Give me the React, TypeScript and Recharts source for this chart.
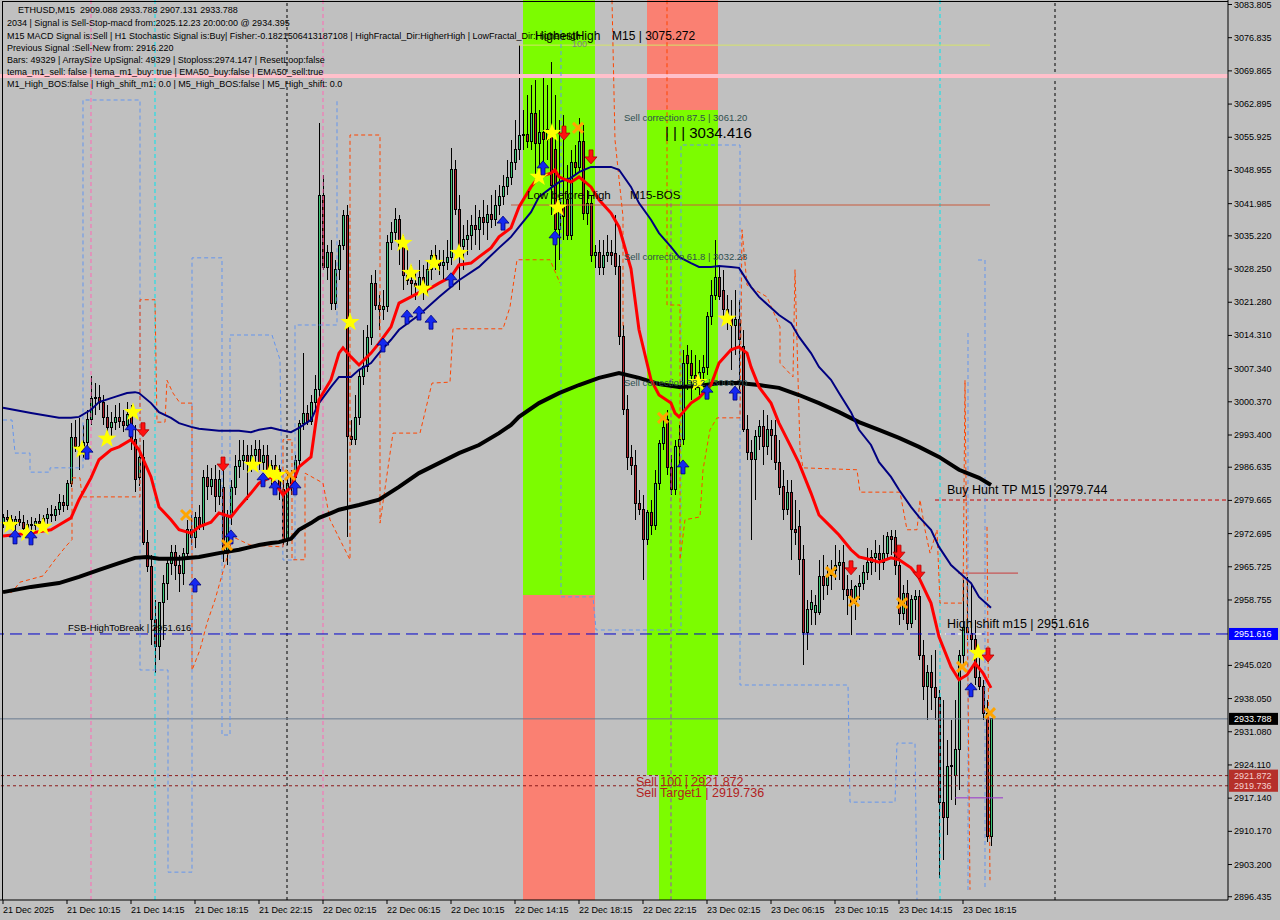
import React from 'react';
import {
  ComposedChart,
  Bar,
  Line,
  Scatter,
  XAxis,
  YAxis,
  ReferenceArea,
  ReferenceLine,
} from 'recharts';

// ETHUSD M15, one entry per bar (index 0 = 21 Dec 06:15)
const opens = [
  2975.1, 2976.0, 2975.6, 2974.7, 2975.6, 2975.1, 2973.7, 2974.7, 2974.3, 2975.3,
  2974.9, 2975.8, 2976.8, 2976.4, 2977.7, 2979.3, 2978.5, 2983.3, 2992.8, 2990.9,
  2989.8, 2991.9, 2996.6, 3001.0, 3001.2, 3000.3, 2997.0, 2994.9, 2996.1, 2997.0,
  2996.3, 2995.5, 2997.8, 2992.4, 2984.4, 2988.6, 2970.9, 2965.7, 2954.6, 2948.9,
  2958.3, 2962.3, 2966.5, 2968.8, 2966.1, 2964.4, 2968.6, 2973.5, 2971.8, 2976.0,
  2974.5, 2984.4, 2982.5, 2984.0, 2980.4, 2982.3, 2968.6, 2976.2, 2982.3, 2986.7,
  2988.1, 2989.2, 2987.7, 2989.2, 2990.3, 2987.7, 2989.2, 2985.6, 2986.9, 2986.1,
  2981.9, 2971.4, 2983.3, 2984.4, 2988.1, 2995.9, 2998.0, 2996.3, 3000.3, 3002.9,
  3043.8, 3028.5, 3031.8, 3021.1, 3028.1, 3033.3, 3039.6, 2993.0, 2992.4, 2997.0,
  3005.6, 3007.7, 3013.8, 3025.3, 3020.7, 3019.7, 3020.3, 3033.9, 3036.0, 3038.6,
  3032.9, 3027.0, 3025.9, 3025.3, 3024.5, 3026.4, 3024.7, 3028.1, 3031.0, 3029.7,
  3028.9, 3029.7, 3030.6, 3049.1, 3040.7, 3032.9, 3034.4, 3035.2, 3037.5, 3036.5,
  3039.0, 3038.1, 3039.8, 3038.6, 3041.7, 3043.4, 3045.5, 3047.4, 3050.7, 3053.3,
  3056.2, 3056.6, 3055.0, 3061.0, 3054.7, 3057.0, 3055.4, 3057.5, 3053.3, 3036.5,
  3041.7, 3042.8, 3035.4, 3050.7, 3049.5, 3055.0, 3040.0, 3042.1, 3031.2, 3031.8,
  3028.5, 3031.2, 3031.8, 3031.6, 3028.7, 3014.0, 2998.7, 2988.6, 2987.1, 2979.1,
  2977.7, 2971.4, 2977.2, 2974.5, 2983.3, 2991.7, 2996.6, 2986.5, 2981.9, 2990.9,
  2992.4, 3010.2, 3008.5, 3006.0, 3005.0, 3006.6, 3007.5, 3018.2, 3022.8, 3026.4,
  3023.8, 3019.7, 3018.0, 3016.5, 3017.6, 3011.9, 2994.5, 2989.8, 2988.2, 2993.0,
  2995.1, 2990.9, 2994.5, 2993.4, 2987.7, 2982.5, 2977.7, 2981.4, 2973.5, 2974.1,
  2967.2, 2952.0, 2956.7, 2956.2, 2956.2, 2963.6, 2961.9, 2964.0, 2965.0, 2966.1,
  2966.7, 2960.9, 2960.9, 2958.1, 2961.5, 2962.3, 2964.6, 2966.7, 2967.6, 2968.6,
  2966.7, 2968.6, 2972.0, 2971.8, 2966.1, 2956.0, 2960.2, 2953.9, 2958.8, 2959.4,
  2947.2, 2940.5, 2943.6, 2940.3, 2938.2, 2916.3, 2913.0, 2923.7, 2922.0, 2927.3,
  2947.2, 2952.9, 2951.8, 2950.4, 2942.4, 2940.5, 2935.0, 2909.088,
];

const highs = [
  2976.8, 2977.7, 2976.6, 2976.4, 2977.4, 2976.6, 2975.6, 2976.2, 2976.0, 2976.8,
  2976.6, 2978.1, 2978.7, 2978.5, 2981.0, 2980.8, 2984.0, 2995.9, 2996.6, 2997.0,
  2995.5, 2998.7, 3005.8, 3004.3, 3003.9, 3001.8, 2999.7, 2998.2, 2999.7, 3000.1,
  2998.7, 3000.3, 2999.7, 2995.5, 2989.8, 2992.4, 2973.4, 2968.2, 2958.8, 2956.7,
  2964.0, 2967.2, 2970.3, 2970.3, 2968.2, 2969.7, 2975.6, 2976.6, 2977.2, 2978.7,
  2986.1, 2987.1, 2986.5, 2987.1, 2986.1, 2986.1, 2977.7, 2984.0, 2989.2, 2992.4,
  2992.4, 2991.3, 2991.3, 2992.4, 2992.4, 2991.3, 2991.3, 2988.1, 2989.2, 2987.1,
  2984.0, 2986.1, 2986.1, 2989.2, 2996.6, 3010.6, 2999.7, 3001.8, 3006.0, 3058.9,
  3048.0, 3033.3, 3034.4, 3030.2, 3034.4, 3040.7, 3041.7, 2996.6, 3001.8, 3007.1,
  3015.5, 3016.5, 3027.0, 3028.1, 3022.8, 3023.9, 3035.4, 3038.1, 3041.1, 3039.6,
  3035.4, 3032.3, 3029.1, 3028.1, 3030.2, 3029.1, 3029.7, 3032.3, 3033.3, 3032.3,
  3032.3, 3034.4, 3053.7, 3051.2, 3043.8, 3037.5, 3038.6, 3039.6, 3041.7, 3040.7,
  3042.8, 3041.7, 3043.8, 3044.9, 3045.9, 3048.0, 3051.2, 3055.4, 3059.6, 3075.3,
  3061.7, 3064.8, 3066.9, 3067.9, 3061.7, 3069.0, 3066.9, 3071.7, 3064.8, 3059.6,
  3060.6, 3050.1, 3053.3, 3054.3, 3060.0, 3058.5, 3044.9, 3043.8, 3033.3, 3034.4,
  3034.4, 3035.4, 3034.4, 3039.6, 3031.2, 3016.5, 3001.8, 2991.3, 2990.3, 2981.9,
  2980.8, 2977.7, 2979.8, 2986.1, 2992.4, 2996.6, 2998.7, 2989.2, 2992.4, 2995.5,
  3011.3, 3012.3, 3011.3, 3010.2, 3009.2, 3010.2, 3019.2, 3025.9, 3034.4, 3029.1,
  3028.1, 3022.8, 3021.8, 3023.9, 3021.8, 3015.5, 2997.6, 2992.4, 2994.5, 2996.6,
  2998.7, 2997.6, 2996.6, 2996.6, 2992.4, 2986.1, 2984.0, 2984.0, 2979.8, 2977.7,
  2970.3, 2958.8, 2960.9, 2959.8, 2967.2, 2968.2, 2966.1, 2967.2, 2970.3, 2969.3,
  2970.3, 2964.0, 2963.0, 2961.9, 2964.0, 2966.1, 2969.7, 2969.3, 2971.4, 2970.3,
  2972.4, 2973.0, 2973.5, 2973.5, 2969.3, 2961.9, 2962.9, 2959.8, 2960.9, 2960.9,
  2950.4, 2945.1, 2947.2, 2948.3, 2939.9, 2937.8, 2929.4, 2933.5, 2937.8, 2948.3,
  2962.9, 2963.6, 2961.9, 2954.6, 2948.3, 2942.0, 2937.8, 2933.788,
];

const lows = [
  2973.9, 2974.5, 2973.5, 2973.0, 2974.3, 2973.0, 2972.4, 2973.5, 2972.8, 2973.9,
  2973.5, 2974.1, 2975.1, 2975.3, 2976.6, 2977.2, 2977.7, 2982.5, 2989.8, 2986.0,
  2988.6, 2991.1, 2995.5, 2997.6, 2998.7, 2995.5, 2993.4, 2992.8, 2994.4, 2994.9,
  2994.0, 2994.5, 2990.3, 2981.4, 2982.7, 2970.3, 2964.6, 2949.3, 2943.4, 2946.2,
  2950.4, 2958.8, 2964.0, 2962.9, 2960.4, 2961.9, 2967.2, 2970.3, 2969.7, 2973.5,
  2973.5, 2979.8, 2980.8, 2977.2, 2978.7, 2966.7, 2966.1, 2974.5, 2980.8, 2984.4,
  2986.1, 2979.8, 2985.6, 2986.5, 2986.1, 2986.1, 2984.4, 2982.9, 2984.0, 2979.8,
  2970.3, 2970.3, 2980.8, 2982.9, 2987.1, 2994.5, 2995.5, 2995.5, 2998.7, 3000.3,
  3028.1, 3025.9, 3019.7, 3019.7, 3025.9, 3032.3, 2972.0, 2991.3, 2991.3, 2995.5,
  3003.9, 3006.6, 3012.3, 3019.7, 3015.5, 3017.5, 3019.2, 3032.3, 3034.4, 3029.1,
  3023.9, 3024.9, 3022.8, 3021.8, 3023.4, 3021.8, 3022.8, 3025.9, 3028.1, 3027.0,
  3025.9, 3028.1, 3029.1, 3039.6, 3023.9, 3028.1, 3031.2, 3032.3, 3033.3, 3032.3,
  3035.4, 3034.4, 3036.9, 3037.3, 3039.6, 3041.7, 3043.8, 3045.9, 3049.1, 3051.2,
  3053.3, 3053.7, 3053.3, 3047.0, 3050.1, 3048.0, 3051.2, 3039.6, 3028.1, 3030.2,
  3034.4, 3034.4, 3034.4, 3048.0, 3048.6, 3038.6, 3037.5, 3029.7, 3028.5, 3027.0,
  3027.0, 3029.7, 3029.1, 3027.0, 3012.3, 2997.6, 2986.1, 2985.0, 2975.6, 2976.6,
  2962.9, 2970.3, 2972.4, 2973.5, 2981.9, 2990.3, 2985.0, 2980.8, 2980.8, 2987.1,
  2991.3, 3002.9, 3000.8, 3002.9, 3001.8, 3003.9, 3006.0, 3016.5, 3021.8, 3021.8,
  3017.6, 3015.5, 3007.1, 3010.2, 3002.9, 2994.0, 2988.2, 2971.4, 2979.8, 2990.3,
  2987.1, 2989.2, 2988.2, 2986.1, 2980.8, 2975.6, 2976.6, 2967.2, 2970.3, 2964.0,
  2945.1, 2948.3, 2953.5, 2953.5, 2955.6, 2958.8, 2959.8, 2960.9, 2962.9, 2962.9,
  2958.8, 2955.6, 2951.4, 2954.6, 2958.8, 2960.9, 2962.9, 2964.0, 2964.6, 2962.9,
  2965.1, 2967.2, 2968.2, 2964.0, 2953.5, 2954.6, 2952.4, 2952.9, 2954.6, 2946.2,
  2937.8, 2933.6, 2935.7, 2933.6, 2900.4, 2904.2, 2909.4, 2916.8, 2915.7, 2918.9,
  2945.1, 2950.4, 2948.3, 2940.9, 2939.9, 2933.6, 2907.9, 2907.131,
];

const closes = [
  2976.0, 2975.6, 2974.7, 2975.6, 2975.1, 2973.7, 2974.7, 2974.3, 2975.3, 2974.9,
  2975.8, 2976.8, 2976.4, 2977.7, 2979.3, 2978.5, 2983.3, 2992.8, 2990.9, 2989.8,
  2991.9, 2996.6, 3001.0, 3001.2, 3000.3, 2997.0, 2994.9, 2996.1, 2997.0, 2996.3,
  2995.5, 2997.8, 2992.4, 2984.0, 2988.6, 2970.9, 2965.7, 2954.6, 2948.9, 2958.3,
  2962.3, 2966.5, 2968.8, 2966.1, 2964.4, 2968.6, 2973.5, 2971.8, 2976.0, 2974.5,
  2984.4, 2982.5, 2984.0, 2980.4, 2984.0, 2968.6, 2976.2, 2982.3, 2986.7, 2988.1,
  2989.2, 2987.7, 2989.2, 2990.3, 2987.7, 2989.2, 2985.6, 2986.9, 2986.1, 2981.9,
  2971.4, 2983.3, 2984.4, 2988.1, 2995.9, 2998.0, 2996.3, 3000.3, 3002.9, 3043.8,
  3028.5, 3031.8, 3021.1, 3028.1, 3033.3, 3039.6, 2993.0, 2992.4, 2997.0, 3005.6,
  3007.7, 3013.8, 3025.3, 3020.7, 3019.7, 3020.3, 3033.9, 3036.0, 3038.6, 3032.9,
  3027.0, 3025.9, 3025.3, 3024.5, 3026.4, 3024.7, 3028.1, 3031.0, 3029.7, 3028.9,
  3029.7, 3030.6, 3049.1, 3040.7, 3032.9, 3034.4, 3035.2, 3037.5, 3036.5, 3039.0,
  3038.1, 3039.8, 3038.6, 3041.7, 3043.4, 3045.5, 3047.4, 3050.7, 3053.3, 3056.2,
  3056.6, 3055.0, 3061.0, 3054.7, 3057.0, 3055.4, 3057.5, 3045.9, 3036.5, 3042.8,
  3039.2, 3035.4, 3050.7, 3049.5, 3055.0, 3040.0, 3042.1, 3031.2, 3031.8, 3028.5,
  3031.2, 3031.8, 3031.2, 3028.7, 3014.0, 2998.7, 2988.6, 2987.1, 2979.1, 2977.7,
  2971.4, 2977.2, 2974.5, 2983.3, 2991.7, 2994.9, 2986.5, 2981.9, 2990.9, 2992.4,
  3008.5, 3008.5, 3006.0, 3005.0, 3006.6, 3007.5, 3018.2, 3022.8, 3026.4, 3022.4,
  3019.7, 3018.0, 3016.5, 3017.6, 3013.4, 2994.5, 2989.8, 2988.2, 2993.0, 2995.1,
  2990.9, 2994.5, 2993.4, 2987.7, 2982.3, 2977.7, 2981.4, 2973.5, 2973.0, 2967.2,
  2952.0, 2956.7, 2958.3, 2957.7, 2963.6, 2961.9, 2964.0, 2965.0, 2966.1, 2966.7,
  2960.9, 2959.8, 2958.3, 2961.5, 2962.3, 2964.6, 2966.7, 2967.6, 2968.6, 2967.2,
  2968.6, 2972.0, 2971.4, 2966.1, 2956.0, 2960.2, 2953.9, 2958.8, 2959.4, 2947.2,
  2940.5, 2943.6, 2940.3, 2938.2, 2916.3, 2913.0, 2923.7, 2924.1, 2927.3, 2947.2,
  2952.9, 2951.8, 2950.4, 2942.4, 2940.5, 2935.0, 2909.1, 2933.788,
];

const timeLabels = [
  '21 Dec 2025', '21 Dec 10:15', '21 Dec 14:15', '21 Dec 18:15', '21 Dec 22:15',
  '22 Dec 02:15', '22 Dec 06:15', '22 Dec 10:15', '22 Dec 14:15', '22 Dec 18:15',
  '22 Dec 22:15', '23 Dec 02:15', '23 Dec 06:15', '23 Dec 10:15', '23 Dec 14:15',
  '23 Dec 18:15',
];
const timeTickIdx = timeLabels.map((_, k) => k * 16);

const priceTicks = [
  3083.805, 3076.835, 3069.865, 3062.895, 3055.925, 3048.955, 3041.985, 3035.22,
  3028.25, 3021.28, 3014.31, 3007.34, 3000.37, 2993.4, 2986.635, 2979.665,
  2972.695, 2965.725, 2958.755, 2945.02, 2938.05, 2931.08, 2924.11, 2917.14,
  2910.17, 2903.2, 2896.435,
];

// moving averages: [bar index, price]
const fastMa: [number, number][] = [
  [0, 2972.2], [7, 2972.8], [12, 2973.5], [14, 2974.5], [17, 2976.0], [19, 2979.8],
  [22, 2984.4], [24, 2988.2], [27, 2990.3], [29, 2990.9], [32, 2992.4], [34, 2990.3],
  [37, 2984.6], [39, 2978.3], [42, 2975.6], [44, 2973.5], [47, 2972.8], [49, 2974.1],
  [52, 2975.1], [54, 2977.0], [57, 2976.2], [59, 2978.3], [62, 2981.2], [64, 2983.3],
  [67, 2984.6], [70, 2980.8], [72, 2982.5], [74, 2986.7], [77, 2988.8], [79, 3000.8],
  [82, 3005.0], [84, 3010.6], [85, 3011.7], [87, 3009.8], [89, 3008.1], [92, 3010.6],
  [94, 3012.7], [97, 3016.1], [99, 3021.1], [102, 3022.4], [104, 3023.3], [107, 3024.3],
  [109, 3025.3], [112, 3026.6], [114, 3029.1], [117, 3029.5], [119, 3030.8], [122, 3032.7],
  [124, 3035.0], [127, 3036.9], [129, 3041.3], [132, 3045.5], [134, 3047.6], [137, 3048.4],
  [138, 3049.1], [139, 3047.6], [142, 3046.5], [144, 3047.6], [147, 3045.5], [149, 3042.8],
  [152, 3040.0], [154, 3037.1], [157, 3028.3], [159, 3015.5], [162, 3005.0], [164, 3001.8],
  [167, 3000.1], [168, 2998.0], [169, 2997.2], [172, 3000.1], [174, 3001.2], [177, 3003.9],
  [179, 3008.5], [182, 3011.3], [184, 3011.9], [186, 3010.6], [187, 3007.7], [189, 3003.5],
  [192, 3000.1], [194, 2995.9], [197, 2990.9], [199, 2987.5], [202, 2981.2], [204, 2976.6],
  [207, 2974.1], [209, 2972.4], [212, 2969.3], [214, 2967.8], [217, 2967.2], [219, 2966.7],
  [222, 2967.6], [224, 2967.2], [227, 2965.5], [229, 2963.4], [232, 2958.1], [234, 2951.0],
  [237, 2944.7], [239, 2942.0], [241, 2943.0], [243, 2945.5], [245, 2943.4], [247, 2940.3],
];

const midMa: [number, number][] = [
  [0, 2999.1], [7, 2998.0], [14, 2997.0], [17, 2997.0], [19, 2997.2], [22, 2998.7],
  [24, 3000.3], [28, 3001.4], [31, 3002.2], [33, 3002.4], [34, 3002.2], [37, 3000.1],
  [39, 2998.2], [42, 2997.0], [44, 2995.9], [47, 2995.1], [49, 2994.7], [54, 2994.3],
  [59, 2994.3], [62, 2994.0], [64, 2994.5], [67, 2994.9], [69, 2994.5], [72, 2994.0],
  [74, 2994.9], [77, 2996.6], [79, 3000.1], [82, 3003.5], [84, 3005.6], [87, 3005.6],
  [89, 3007.1], [92, 3008.5], [94, 3010.6], [97, 3013.4], [99, 3015.5], [104, 3018.6],
  [109, 3022.4], [114, 3025.9], [119, 3028.7], [124, 3032.7], [127, 3035.0], [129, 3037.1],
  [132, 3040.2], [134, 3043.4], [137, 3045.3], [139, 3046.5], [142, 3047.4], [144, 3048.6],
  [147, 3049.7], [149, 3049.7], [152, 3049.7], [154, 3049.1], [157, 3045.5], [159, 3042.1],
  [162, 3038.6], [164, 3035.8], [167, 3032.9], [169, 3030.8], [172, 3029.5], [174, 3028.7],
  [177, 3028.7], [179, 3028.9], [182, 3028.7], [184, 3028.5], [187, 3024.5], [189, 3022.4],
  [192, 3020.1], [194, 3018.6], [197, 3016.9], [199, 3014.0], [202, 3010.6], [204, 3007.7],
  [207, 3005.0], [209, 3002.2], [212, 2998.2], [214, 2994.5], [217, 2991.3], [219, 2987.7],
  [222, 2984.6], [224, 2981.9], [227, 2978.3], [229, 2976.2], [232, 2973.5], [234, 2969.9],
  [237, 2966.1], [239, 2964.6], [242, 2962.3], [244, 2959.4], [247, 2957.1],
];

const slowMa: [number, number][] = [
  [0, 2960.4], [7, 2961.5], [14, 2962.3], [19, 2963.6], [24, 2965.1], [29, 2966.5],
  [33, 2967.6], [36, 2967.8], [39, 2967.4], [44, 2967.4], [49, 2967.8], [54, 2968.6],
  [59, 2969.3], [62, 2969.9], [64, 2970.3], [67, 2970.7], [69, 2970.9], [72, 2971.6],
  [74, 2973.5], [77, 2974.9], [79, 2976.0], [82, 2977.0], [84, 2977.7], [89, 2978.7],
  [94, 2979.8], [99, 2982.5], [104, 2985.4], [109, 2987.5], [114, 2989.6], [119, 2991.3],
  [124, 2993.8], [127, 2995.5], [129, 2997.2], [134, 3000.1], [139, 3002.2], [144, 3003.9],
  [149, 3005.4], [154, 3006.4], [159, 3005.4], [164, 3004.1], [169, 3003.5], [174, 3003.7],
  [179, 3004.3], [184, 3004.3], [189, 3003.9], [194, 3003.3], [199, 3001.8], [204, 3000.1],
  [209, 2998.2], [214, 2996.1], [219, 2994.5], [224, 2992.8], [229, 2990.9], [234, 2988.8],
  [239, 2986.1], [244, 2984.4], [247, 2982.9],
];

// stepped channel lines (dashed), [bar index, price] in drawing order
const orangeLeft: [number, number][] = [
  [0, 2960.4], [2.25, 2960.4], [4.25, 2962.5], [10, 2963.8], [13, 2967.2], [16, 2970.3],
  [17.25, 2971.4], [17.25, 2984.4], [19.25, 2984.4], [19.75, 2980.4], [34.25, 2980.4],
  [34.25, 3021.8], [38, 3021.8], [38.5, 2996.1], [40.5, 2996.1], [41, 3004.9], [42.5, 3002.2],
  [44.25, 3000.1], [47.25, 3000.1], [47.25, 2944.0], [49.25, 2948.3], [51, 2953.9],
  [53, 2958.8], [54.75, 2964.0], [57.5, 2972.0], [61.75, 2970.3], [70, 2969.9], [70, 2992.4],
  [72.25, 2992.4], [72.25, 2967.2], [75.5, 2967.2], [75.5, 2985.4], [80, 2983.3],
  [81.75, 2975.6], [86.75, 2967.2], [86.75, 3056.4], [94.25, 3056.4], [94.25, 2974.9],
  [97.5, 2993.8], [104.25, 2993.8], [107.25, 3004.3], [111.75, 3004.5], [112.5, 3015.7],
  [125, 3015.7], [126.75, 3020.3], [128.5, 3030.2], [136.75, 3030.2], [139.25, 3025.3],
];
const orangeTop: [number, number][] = [
  [152.25, 3084.7], [153, 3055.4], [155, 3039.2], [155, 3015.5],
];
const orangeRight: [number, number][] = [
  [166, 3084.7], [166, 3020.7], [169.25, 3020.7], [169.25, 2967.2], [170.5, 2975.6],
  [174.25, 2976.2], [175, 2986.1], [176.75, 2994.5], [178.5, 2997.0], [184.25, 2997.0],
  [184.75, 3036.5], [186, 3024.9], [191, 3022.4], [194.25, 3016.1], [194.25, 3008.5],
  [197.5, 3005.6], [198, 3028.1], [199.25, 2990.3], [200, 2986.5], [213.5, 2986.1],
  [214.25, 2981.4], [224.25, 2981.4], [226, 2973.5], [228.5, 2973.5], [229.25, 2979.8],
  [230.5, 2973.5], [231.75, 2968.6], [233.5, 2973.5], [234.25, 2958.1], [240, 2958.1],
  [240.5, 3004.9], [241.75, 2897.9],
];
const orangeEnd: [number, number][] = [[246, 2974.1], [246.75, 2899.9]];

const blueLeft: [number, number][] = [
  [0, 2996.55], [2.25, 2996.55], [3, 2989.6], [6.75, 2989.6], [6.75, 2985.6], [11.75, 2985.6],
  [11.75, 2986.5], [20, 2986.5], [20, 3063.75], [34.25, 3063.75], [34.25, 2944.05],
  [41.25, 2944.05], [41.25, 2901.6], [47.25, 2901.6], [47.25, 3030.6], [54.75, 3030.6],
  [54.75, 2930.4], [56.75, 2930.4], [56.75, 3014.4], [67.25, 3014.4], [69.25, 3009.2],
  [70, 2967.15], [73, 2967.15], [73, 3016.5], [83.5, 3016.5], [83.5, 3063.75],
];
const blueRight: [number, number][] = [
  [139.5, 3078.45], [139.5, 2959.4], [147.5, 2959.4], [148.25, 2952.45], [169.5, 2952.45],
  [169.5, 3054.3], [184.25, 3054.3], [184.25, 2940.9], [211.25, 2940.9], [211.75, 2916.3],
  [223, 2916.3], [223.5, 2928.7], [228, 2928.7], [228.5, 2895.8],
];
const blueEnd1: [number, number][] = [[241.25, 2897.85], [241.25, 3015.45]];
const blueEnd2: [number, number][] = [[243.75, 3030.15], [245.5, 3030.15], [245.5, 2897.85]];

// signal markers: [bar index, price]
const starMarks: [number, number][] = [
  [1.75, 2974.5], [6, 2972.8], [10, 2974.1], [19.75, 2990.3], [26, 2992.6], [32.5, 2998.2],
  [62.5, 2987.1], [66.75, 2985.4], [68.5, 2985.0], [86.75, 3017.1], [100, 3033.7],
  [102, 3027.4], [105, 3024.1], [107.75, 3029.5], [114, 3031.6], [137.25, 3056.8],
  [134, 3047.6], [138.75, 3041.1], [173.75, 3004.5], [181, 3017.8], [243.75, 2947.6],
];
const buyArrows: [number, number][] = [
  [3, 2972.0], [7, 2971.8], [21, 2989.8], [32, 2994.5], [48, 2961.9], [57, 2972.0],
  [65, 2984.0], [68, 2982.3], [73, 2982.3], [95, 3012.3], [101, 3018.2], [104, 3019.0],
  [107, 3017.1], [112, 3026.0], [125, 3037.9], [135, 3049.5], [138, 3034.8], [170, 2986.7],
  [176, 3002.4], [183, 3002.2], [242, 2939.9],
];
const sellArrows: [number, number][] = [
  [35, 2994.5], [55, 2987.3], [140.25, 3056.8], [147, 3051.8], [212, 2965.5],
  [224, 2968.8], [229, 2964.6], [246.25, 2947.2],
];
const crossMarks: [number, number][] = [
  [45.75, 2976.6], [56, 2970.3], [71.75, 2985.0], [143.75, 3057.9], [165, 2997.0],
  [207, 2964.6], [212.75, 2958.5], [224.75, 2958.1], [239.75, 2944.7], [246.75, 2935.0],
];

const candles = opens.map((o, i) => ({
  i,
  o,
  h: highs[i],
  l: lows[i],
  c: closes[i],
  range: [lows[i], highs[i]],
}));
const toPts = (arr: [number, number][]) => arr.map(([i, p]) => ({ i, p }));

const FONT = "'Liberation Sans', Arial, sans-serif";

const Candle = (props: any) => {
  const { x, y, width, height, payload } = props;
  const { o, h, l, c } = payload;
  const top = Math.min(y, y + height);
  const full = Math.abs(height);
  const k = full / (h - l || 1);
  const cx = Math.round(x + width / 2);
  const bTop = top + (h - Math.max(o, c)) * k;
  const bBot = top + (h - Math.min(o, c)) * k;
  const up = c >= o;
  return (
    <g shapeRendering="crispEdges">
      <line x1={cx + 0.5} x2={cx + 0.5} y1={top} y2={top + full} stroke="#000" />
      <rect
        x={cx - 0.5}
        y={bTop}
        width={2}
        height={Math.max(bBot - bTop, 1)}
        fill={up ? '#3cc878' : '#b0202a'}
        stroke="#000"
        strokeWidth={1}
      />
    </g>
  );
};

const Star = ({ cx, cy }: any) => {
  const pts: string[] = [];
  for (let k = 0; k < 10; k++) {
    const r = k % 2 === 0 ? 10 : 4;
    const a = -Math.PI / 2 + (k * Math.PI) / 5;
    pts.push(`${cx + r * Math.cos(a)},${cy + r * Math.sin(a)}`);
  }
  return <polygon points={pts.join(' ')} fill="#ffff00" />;
};

const UpArrow = ({ cx, cy }: any) => (
  <path
    d={`M${cx},${cy - 7} L${cx + 6},${cy} L${cx + 2},${cy} L${cx + 2},${cy + 7} L${cx - 2},${cy + 7} L${cx - 2},${cy} L${cx - 6},${cy} Z`}
    fill="#1428f0"
    stroke="#00007a"
    strokeWidth={0.8}
  />
);

const DownArrow = ({ cx, cy }: any) => (
  <path
    d={`M${cx},${cy + 7} L${cx + 6},${cy} L${cx + 2},${cy} L${cx + 2},${cy - 7} L${cx - 2},${cy - 7} L${cx - 2},${cy} L${cx - 6},${cy} Z`}
    fill="#ff1010"
    stroke="#b00000"
    strokeWidth={0.8}
  />
);

const Cross = ({ cx, cy }: any) => (
  <g stroke="#ffa500" strokeWidth={3}>
    <line x1={cx - 5} y1={cy - 5} x2={cx + 5} y2={cy + 5} />
    <line x1={cx - 5} y1={cy + 5} x2={cx + 5} y2={cy - 5} />
  </g>
);

const XTick = ({ x, payload }: any) => (
  <g>
    <line x1={x} x2={x} y1={900} y2={904} stroke="#000" />
    <text x={x} y={913} fontSize={9} fontFamily={FONT} fill="#000">
      {timeLabels[payload.value / 16]}
    </text>
  </g>
);

const YTick = ({ y, payload }: any) => (
  <g>
    <line x1={1228} x2={1232} y1={y} y2={y} stroke="#000" />
    <text x={1234} y={y + 3} fontSize={9} fontFamily={FONT} fill="#000">
      {payload.value.toFixed(3)}
    </text>
  </g>
);

const AxisTag = ({ viewBox, value, fill, color }: any) => (
  <g>
    <rect x={1229} y={viewBox.y - 6} width={49} height={12} fill={fill} />
    <text x={1234} y={viewBox.y + 3.5} fontSize={9} fontFamily={FONT} fill={color}>
      {value}
    </text>
  </g>
);

const infoLines = [
  'ETHUSD,M15  2909.088 2933.788 2907.131 2933.788',
  '2034 | Signal is Sell-Stop-macd from:2025.12.23 20:00:00 @ 2934.395',
  'M15 MACD Signal is:Sell | H1 Stochastic Signal is:Buy| Fisher:-0.1821506413187108 | HighFractal_Dir:HigherHigh | LowFractal_Dir:HigherHigh',
  'Previous Signal :Sell-New from: 2916.220',
  'Bars: 49329 | ArraySize UpSignal: 49329 | Stoploss:2974.147 | ResetLoop:false',
  'tema_m1_sell: false | tema_m1_buy: true | EMA50_buy:false | EMA50_sell:true',
  'M1_High_BOS:false | High_shift_m1: 0.0 | M5_High_BOS:false | M5_High_shift: 0.0',
];

const Txt = ({ x, y, size, color = '#000', children }: any) => (
  <div
    style={{
      position: 'absolute',
      left: x,
      top: y - size * 0.6,
      fontSize: size,
      lineHeight: `${size * 1.2}px`,
      fontFamily: FONT,
      color,
      whiteSpace: 'pre',
      pointerEvents: 'none',
    }}
  >
    {children}
  </div>
);

const stepLine = (pts: [number, number][], color: string, key: string) => (
  <Line
    key={key}
    data={toPts(pts)}
    dataKey="p"
    stroke={color}
    strokeWidth={1}
    strokeDasharray="4 3"
    dot={false}
    activeDot={false}
    isAnimationActive={false}
  />
);

export default function App() {
  return (
    <div style={{ position: 'relative', width: 1280, height: 920, background: '#c0c0c0', overflow: 'hidden' }}>
      <style>{'body{margin:0}'}</style>
      <ComposedChart
        width={1280}
        height={920}
        data={candles}
        margin={{ top: 0, right: 0, bottom: 0, left: 0 }}
      >
        <XAxis
          dataKey="i"
          type="number"
          domain={[-0.75, 306.25]}
          allowDataOverflow
          ticks={timeTickIdx}
          interval={0}
          tick={<XTick />}
          tickLine={false}
          axisLine={{ stroke: '#000' }}
          height={20}
        />
        <YAxis
          orientation="right"
          type="number"
          domain={[2895.75, 3084.75]}
          allowDataOverflow
          ticks={priceTicks}
          interval={0}
          tick={<YTick />}
          tickLine={false}
          axisLine={{ stroke: '#000' }}
          width={52}
        />

        <ReferenceArea x1={130} x2={148} y1={2959.8} y2={3084.75} fill="#7cfc00" fillOpacity={1} stroke="none" />
        <ReferenceArea x1={130} x2={148} y1={2895.75} y2={2959.8} fill="#fa8072" fillOpacity={1} stroke="none" />
        <ReferenceArea x1={161} x2={178.75} y1={3061.65} y2={3084.75} fill="#fa8072" fillOpacity={1} stroke="none" />
        <ReferenceArea x1={161} x2={178.75} y1={2922.0} y2={3061.65} fill="#7cfc00" fillOpacity={1} stroke="none" />
        <ReferenceArea x1={164} x2={175.75} y1={2895.75} y2={2922.0} fill="#7cfc00" fillOpacity={1} stroke="none" />

        <ReferenceLine x={22} stroke="#ff69b4" strokeDasharray="4 3" />
        <ReferenceLine x={80} stroke="#ff69b4" strokeDasharray="4 3" />
        <ReferenceLine x={38} stroke="#00e5ee" strokeDasharray="4 3" />
        <ReferenceLine x={234.25} stroke="#00e5ee" strokeDasharray="4 3" />
        <ReferenceLine x={71} stroke="#000" strokeDasharray="3 3" />
        <ReferenceLine x={263} stroke="#000" strokeDasharray="3 3" />
        <ReferenceLine segment={[{ x: 167, y: 3045 }, { x: 167, y: 2895.75 }]} stroke="#a040c0" strokeDasharray="4 3" />

        <ReferenceLine y={3068.8} stroke="#ffc0cb" strokeWidth={4} />
        <ReferenceLine segment={[{ x: 129, y: 3075.272 }, { x: 246.75, y: 3075.272 }]} stroke="#d4e36a" />
        <ReferenceLine segment={[{ x: 127, y: 3041.7 }, { x: 246.75, y: 3041.7 }]} stroke="#c85a3c" />
        <ReferenceLine y={2951.616} stroke="#0000cd" strokeDasharray="12 6" label={<AxisTag value="2951.616" fill="#0000ff" color="#ffffff" />} />
        <ReferenceLine segment={[{ x: 233, y: 2951.616 }, { x: 246.75, y: 2951.616 }]} stroke="#ffffff" strokeDasharray="6 4" />
        <ReferenceLine y={2933.788} stroke="#6a7a90" label={<AxisTag value="2933.788" fill="#000000" color="#ffffff" />} />
        <ReferenceLine y={2921.872} stroke="#8b1a1a" strokeDasharray="3 3" label={<AxisTag value="2921.872" fill="#b5302a" color="#f4d0d0" />} />
        <ReferenceLine y={2919.736} stroke="#8b1a1a" strokeDasharray="3 3" label={<AxisTag value="2919.736" fill="#b5302a" color="#f4d0d0" />} />
        <ReferenceLine segment={[{ x: 233, y: 2979.744 }, { x: 306.25, y: 2979.744 }]} stroke="#cc0000" strokeDasharray="4 3" />
        <ReferenceLine segment={[{ x: 238.75, y: 2964.4 }, { x: 253.75, y: 2964.4 }]} stroke="#c83c3c" />
        <ReferenceLine segment={[{ x: 238, y: 2917.2 }, { x: 250, y: 2917.2 }]} stroke="#9932cc" />

        {stepLine(blueLeft, '#6495ed', 'bl')}
        {stepLine(blueRight, '#6495ed', 'br')}
        {stepLine(blueEnd1, '#6495ed', 'be1')}
        {stepLine(blueEnd2, '#6495ed', 'be2')}
        {stepLine(orangeLeft, '#ff4500', 'ol')}
        {stepLine(orangeTop, '#ff4500', 'ot')}
        {stepLine(orangeRight, '#ff4500', 'or')}
        {stepLine(orangeEnd, '#ff4500', 'oe')}

        <Bar dataKey="range" shape={<Candle />} barSize={3} isAnimationActive={false} activeBar={false} />

        <Line data={toPts(slowMa)} dataKey="p" stroke="#000000" strokeWidth={4} dot={false} activeDot={false} isAnimationActive={false} />
        <Line data={toPts(midMa)} dataKey="p" stroke="#000080" strokeWidth={2} dot={false} activeDot={false} isAnimationActive={false} />
        <Line data={toPts(fastMa)} dataKey="p" stroke="#ff0000" strokeWidth={3} dot={false} activeDot={false} isAnimationActive={false} />

        <Scatter data={toPts(starMarks)} dataKey="p" shape={<Star />} isAnimationActive={false} />
        <Scatter data={toPts(buyArrows)} dataKey="p" shape={<UpArrow />} isAnimationActive={false} />
        <Scatter data={toPts(sellArrows)} dataKey="p" shape={<DownArrow />} isAnimationActive={false} />
        <Scatter data={toPts(crossMarks)} dataKey="p" shape={<Cross />} isAnimationActive={false} />
      </ComposedChart>

      <div style={{ position: 'absolute', left: 2, top: 1, width: 1226, height: 899, borderLeft: '1px solid #000', borderTop: '1px solid #000', boxSizing: 'border-box', pointerEvents: 'none' }} />

      {infoLines.map((t, k) => (
        <Txt key={k} x={k === 0 ? 18 : 7} y={[10, 23, 36, 48, 60, 72, 84][k]} size={9}>
          {t}
        </Txt>
      ))}

      <Txt x={535} y={36} size={12}>HighestHigh</Txt>
      <Txt x={612} y={36} size={12}>M15 | 3075.272</Txt>
      <Txt x={572} y={44} size={9} color="#808080">100</Txt>
      <Txt x={624} y={118} size={9.5} color="#2f4f4f">Sell correction 87.5 | 3061.20</Txt>
      <Txt x={665} y={133} size={15}>| | | 3034.416</Txt>
      <Txt x={527} y={196} size={11.5}>Low before High</Txt>
      <Txt x={630} y={196} size={11.5}>M15-BOS</Txt>
      <Txt x={624} y={257} size={9.5} color="#2f4f4f">Sell correction 61.8 | 3032.28</Txt>
      <Txt x={624} y={383} size={9.5} color="#2f4f4f">Sell correction 38.2 | 3006.70</Txt>
      <Txt x={947} y={490} size={12.5}>Buy Hunt TP M15 | 2979.744</Txt>
      <Txt x={947} y={624} size={12.5}>High shift m15 | 2951.616</Txt>
      <Txt x={68} y={628} size={9.5}>FSB-HighToBreak | 2951.616</Txt>
      <Txt x={636} y={782} size={12.5} color="#b22222">Sell 100 | 2921.872</Txt>
      <Txt x={636} y={793} size={12.5} color="#b22222">Sell Target1 | 2919.736</Txt>
    </div>
  );
}
